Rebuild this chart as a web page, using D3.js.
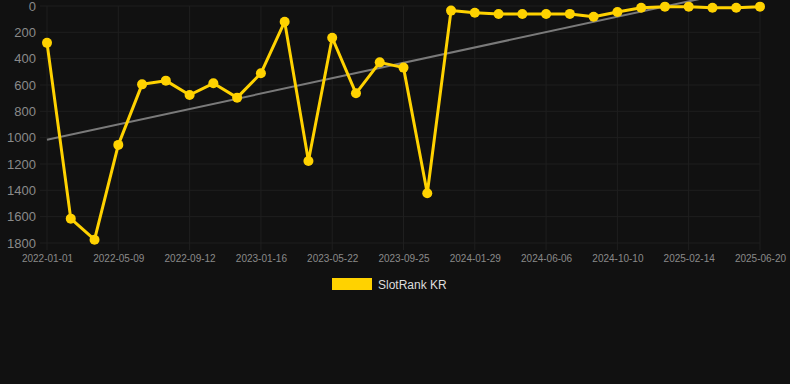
<!DOCTYPE html>
<html><head><meta charset="utf-8">
<script src="https://cdn.jsdelivr.net/npm/d3@7/dist/d3.min.js"></script>
<style>
html,body{margin:0;padding:0;background:#111111;}
svg{display:block;font-family:"Liberation Sans",Arial,Helvetica,sans-serif;}
</style></head><body>
<svg id="chart" width="790" height="384"></svg>
<script>
const categories = ["2022-01-01","2022-02-12","2022-03-26","2022-05-09","2022-06-20","2022-08-01","2022-09-12","2022-10-24","2022-12-05","2023-01-16","2023-02-27","2023-04-10","2023-05-22","2023-07-03","2023-08-14","2023-09-25","2023-11-06","2023-12-18","2024-01-29","2024-03-12","2024-04-24","2024-06-06","2024-07-18","2024-08-29","2024-10-10","2024-11-21","2025-01-03","2025-02-14","2025-03-28","2025-05-09","2025-06-20"];
const seriesName = "SlotRank KR";
const values = [280,1615,1775,1055,595,567,676,587,696,511,119,1177,241,663,428,468,1422,35,51,61,61,61,60,81,46,13,5,5,13,13,5];
const yTicks = [0,200,400,600,800,1000,1200,1400,1600,1800];
const xTickLabels = ["2022-01-01","2022-05-09","2022-09-12","2023-01-16","2023-05-22","2023-09-25","2024-01-29","2024-06-06","2024-10-10","2025-02-14","2025-06-20"];

const svg = d3.select("#chart");
const L = 47, R = 760, T = 6, B = 243, tickLen = 7;
const x = d3.scalePoint().domain(categories).range([L, R]);
const y = d3.scaleLinear().domain([0, 1800]).range([T, B]);

// grid
const grid = svg.append("g");
grid.selectAll(".h").data(yTicks).enter().append("line")
  .attr("x1", L - tickLen).attr("x2", R).attr("y1", d => y(d)).attr("y2", d => y(d))
  .attr("stroke", "#1f1f1f").attr("stroke-width", 1);
grid.selectAll(".v").data(xTickLabels).enter().append("line")
  .attr("x1", d => x(d)).attr("x2", d => x(d)).attr("y1", T).attr("y2", B + tickLen)
  .attr("stroke", "#1f1f1f").attr("stroke-width", 1);

// y axis
const yAxis = d3.axisLeft(y).tickValues(yTicks).tickFormat(d3.format("d")).tickSize(0).tickPadding(0);
const yg = svg.append("g").attr("transform", `translate(${L - 11},0)`).call(yAxis);
yg.select(".domain").remove();
yg.selectAll("text").attr("fill", "#8a8a8a").attr("font-size", 13).attr("font-family", "Liberation Sans, Arial, sans-serif");

// x axis
const xAxis = d3.axisBottom(x).tickValues(xTickLabels).tickSize(0).tickPadding(0);
const xg = svg.append("g").attr("transform", `translate(0,${B + 12})`).call(xAxis);
xg.select(".domain").remove();
xg.selectAll("text").attr("fill", "#8a8a8a").attr("font-size", 10).attr("font-family", "Liberation Sans, Arial, sans-serif");

// trend line (least squares)
const n = values.length;
const idx = d3.range(n);
const mx = d3.mean(idx), my = d3.mean(values);
const sxy = d3.sum(idx, i => (i - mx) * (values[i] - my));
const sxx = d3.sum(idx, i => (i - mx) * (i - mx));
const slope = sxy / sxx, icpt = my - slope * mx;
svg.append("line")
  .attr("x1", x(categories[0])).attr("y1", y(icpt))
  .attr("x2", x(categories[n - 1])).attr("y2", y(icpt + slope * (n - 1)))
  .attr("stroke", "#7a7a7a").attr("stroke-width", 2);

// series
const color = "#FFD200";
const line = d3.line().x((d, i) => x(categories[i])).y(d => y(d));
svg.append("path").datum(values).attr("d", line)
  .attr("fill", "none").attr("stroke", color).attr("stroke-width", 3).attr("stroke-linejoin", "round");
svg.selectAll(".pt").data(values).enter().append("circle")
  .attr("cx", (d, i) => x(categories[i])).attr("cy", d => y(d)).attr("r", 5)
  .attr("fill", color);

// legend
const lg = svg.append("g");
lg.append("rect").attr("x", 332).attr("y", 278).attr("width", 40).attr("height", 12).attr("fill", color);
lg.append("text").attr("x", 378).attr("y", 289).text(seriesName)
  .attr("fill", "#dddddd").attr("font-size", 12);
</script>
</body></html>
